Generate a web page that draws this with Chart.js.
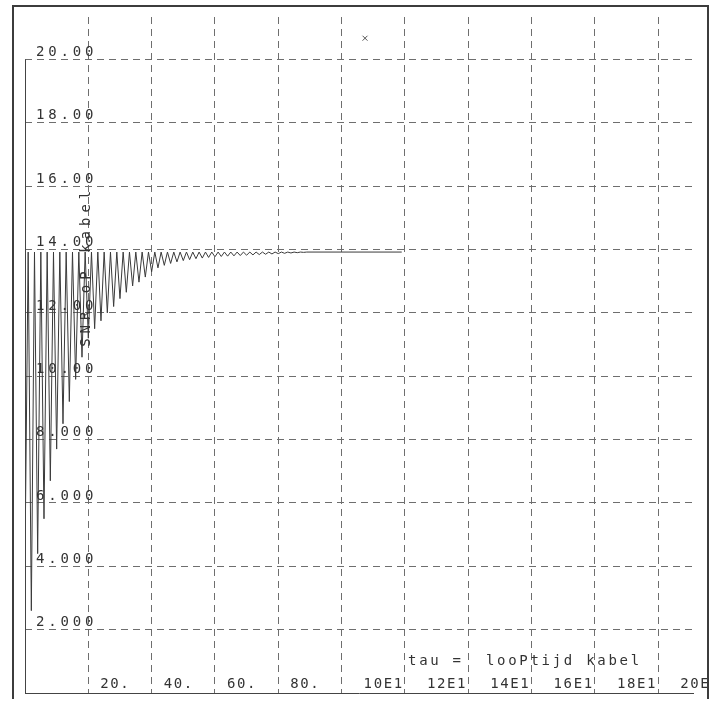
<!DOCTYPE html>
<html>
<head>
<meta charset="utf-8">
<script src="https://cdn.jsdelivr.net/npm/chart.js@4.4.0/dist/chart.umd.min.js"></script>
<style>
  html, body { margin: 0; padding: 0; background: #fff; }
  #wrap { position: relative; width: 717px; height: 702px; }
  #frame { position: absolute; left: 12px; top: 5px; width: 697px; height: 694px;
           border: 2px solid #3c3c3c; border-bottom: none; box-sizing: border-box; pointer-events: none; }
</style>
</head>
<body>
<div id="wrap">
  <canvas id="snrChart" width="717" height="702"></canvas>
  <div id="frame"></div>
</div>
<script>
// samples: SNR against tau
const tauValues = [
    0, 1, 2, 3, 4, 5, 6, 7, 8, 9, 10, 11, 12, 13, 14, 15, 16, 17, 18, 19,
    20, 21, 22, 23, 24, 25, 26, 27, 28, 29, 30, 31, 32, 33, 34, 35, 36, 37, 38, 39,
    40, 41, 42, 43, 44, 45, 46, 47, 48, 49, 50, 51, 52, 53, 54, 55, 56, 57, 58, 59,
    60, 61, 62, 63, 64, 65, 66, 67, 68, 69, 70, 71, 72, 73, 74, 75, 76, 77, 78, 79,
    80, 81, 82, 83, 84, 85, 86, 87, 88, 89, 119
];
const snrValues = [
    4.25, 13.92, 2.6, 13.92, 4.4, 13.92, 5.5, 13.92, 6.7, 13.92,
    7.7, 13.92, 8.5, 13.92, 9.2, 13.92, 9.9, 13.92, 10.6, 13.92,
    11.2, 13.92, 11.5, 13.92, 11.75, 13.92, 12.0, 13.92, 12.2, 13.92,
    12.45, 13.92, 12.65, 13.92, 12.85, 13.92, 12.97, 13.92, 13.13, 13.92,
    13.3, 13.92, 13.42, 13.92, 13.5, 13.92, 13.56, 13.92, 13.61, 13.92,
    13.65, 13.92, 13.68, 13.92, 13.71, 13.92, 13.73, 13.92, 13.75, 13.92,
    13.77, 13.92, 13.78, 13.92, 13.79, 13.92, 13.8, 13.92, 13.81, 13.92,
    13.82, 13.92, 13.83, 13.92, 13.84, 13.92, 13.85, 13.92, 13.86, 13.92,
    13.87, 13.92, 13.88, 13.92, 13.89, 13.92, 13.9, 13.92, 13.91, 13.92,
    13.92
];
// the little cross near the top
const markerTau = [107.4];
const markerSnr = [20.67];

const xTickLabels = ['20.', '40.', '60.', '80.', ' 10E1', ' 12E1', ' 14E1', ' 16E1', ' 18E1', ' 20E'];
const xTitle = 'tau =  looPtijd kabel';
const yTitle = 'SNR oP kabel';

const FONT = '"DejaVu Sans Mono", "Liberation Mono", monospace';
const GRID = '#6e6e6e';
const INK = '#333';

// letter spacing per text group, axis stub and the two titles
const oldPlotter = {
    id: 'oldPlotter',
    beforeDraw(chart) {
        chart.ctx.letterSpacing = '1.6px';
    },
    afterDatasetsDraw(chart) {
        chart.ctx.letterSpacing = '3.8px';
    },
    afterDraw(chart) {
        const { ctx, scales: { x, y } } = chart;
        ctx.save();
        ctx.strokeStyle = '#444';
        ctx.lineWidth = 1;
        const x0 = Math.round(x.getPixelForValue(0)) + 0.5;
        ctx.beginPath();
        ctx.moveTo(x0, y.getPixelForValue(0));
        ctx.lineTo(x0, y.getPixelForValue(20));
        ctx.stroke();

        ctx.fillStyle = INK;
        ctx.font = '14px ' + FONT;
        ctx.letterSpacing = '2.7px';
        ctx.textAlign = 'left';
        ctx.textBaseline = 'middle';
        ctx.fillText(xTitle, x.getPixelForValue(121), y.getPixelForValue(1.0));

        ctx.letterSpacing = '5px';
        ctx.translate(x.getPixelForValue(19.3), y.getPixelForValue(13.47));
        ctx.rotate(-Math.PI / 2);
        ctx.textAlign = 'center';
        ctx.fillText(yTitle, 0, 0);
        ctx.restore();
    }
};

// labels sit inside the plot, so the axes take no room of their own
const noRoomY = (s) => { s.width = 0; s.paddingTop = 0; s.paddingBottom = 0; };
const noRoomX = (s) => { s.height = 0; s.paddingLeft = 0; s.paddingRight = 0; };

const context = document.getElementById('snrChart');
const snrChart = new Chart(context, {
    type: 'line',
    data: {
        datasets: [{
            label: 'SNR',
            data: tauValues.map((t, i) => ({ x: t, y: snrValues[i] })),
            borderColor: '#3a3a3a',
            borderWidth: 1,
            pointRadius: 0,
            tension: 0,
            fill: false,
        }, {
            type: 'scatter',
            label: 'marker',
            data: markerTau.map((t, i) => ({ x: t, y: markerSnr[i] })),
            pointStyle: 'crossRot',
            pointRadius: 3.5,
            borderColor: '#555',
            borderWidth: 1,
        }],
    },
    options: {
        responsive: false,
        animation: false,
        layout: { padding: { left: 25, right: 24, top: 17, bottom: 9 } },
        plugins: {
            legend: { display: false },
            tooltip: { enabled: false },
        },
        scales: {
            x: {
                type: 'linear',
                min: 0,
                max: 211,
                afterBuildTicks: (s) => { s.ticks = s.ticks.filter(t => t.value > 0 && t.value <= 200); },
                afterFit: noRoomX,
                ticks: {
                    stepSize: 20,
                    includeBounds: false,
                    mirror: true,
                    padding: 0,
                    align: 'start',
                    labelOffset: 12,
                    maxRotation: 0,
                    autoSkip: false,
                    color: INK,
                    font: { family: FONT, size: 14 },
                    callback: (v, i) => xTickLabels[i],
                },
                grid: { color: GRID, lineWidth: 1, drawTicks: false },
                border: { display: true, color: '#444', width: 1, dash: [7, 5] },
            },
            y: {
                type: 'linear',
                min: 0,
                max: 21.34,
                afterBuildTicks: (s) => { s.ticks = s.ticks.filter(t => t.value > 0 && t.value <= 20); },
                afterFit: noRoomY,
                ticks: {
                    stepSize: 2,
                    includeBounds: false,
                    mirror: true,
                    padding: 11,
                    labelOffset: -7,
                    autoSkip: false,
                    z: 1,
                    color: INK,
                    font: { family: FONT, size: 14 },
                    callback: (v) => v >= 10 ? v.toFixed(2) : v.toFixed(3),
                },
                grid: { color: GRID, lineWidth: 1, drawTicks: false },
                border: { display: false, dash: [7, 5] },
            },
        },
    },
    plugins: [oldPlotter],
});
</script>
</body>
</html>
